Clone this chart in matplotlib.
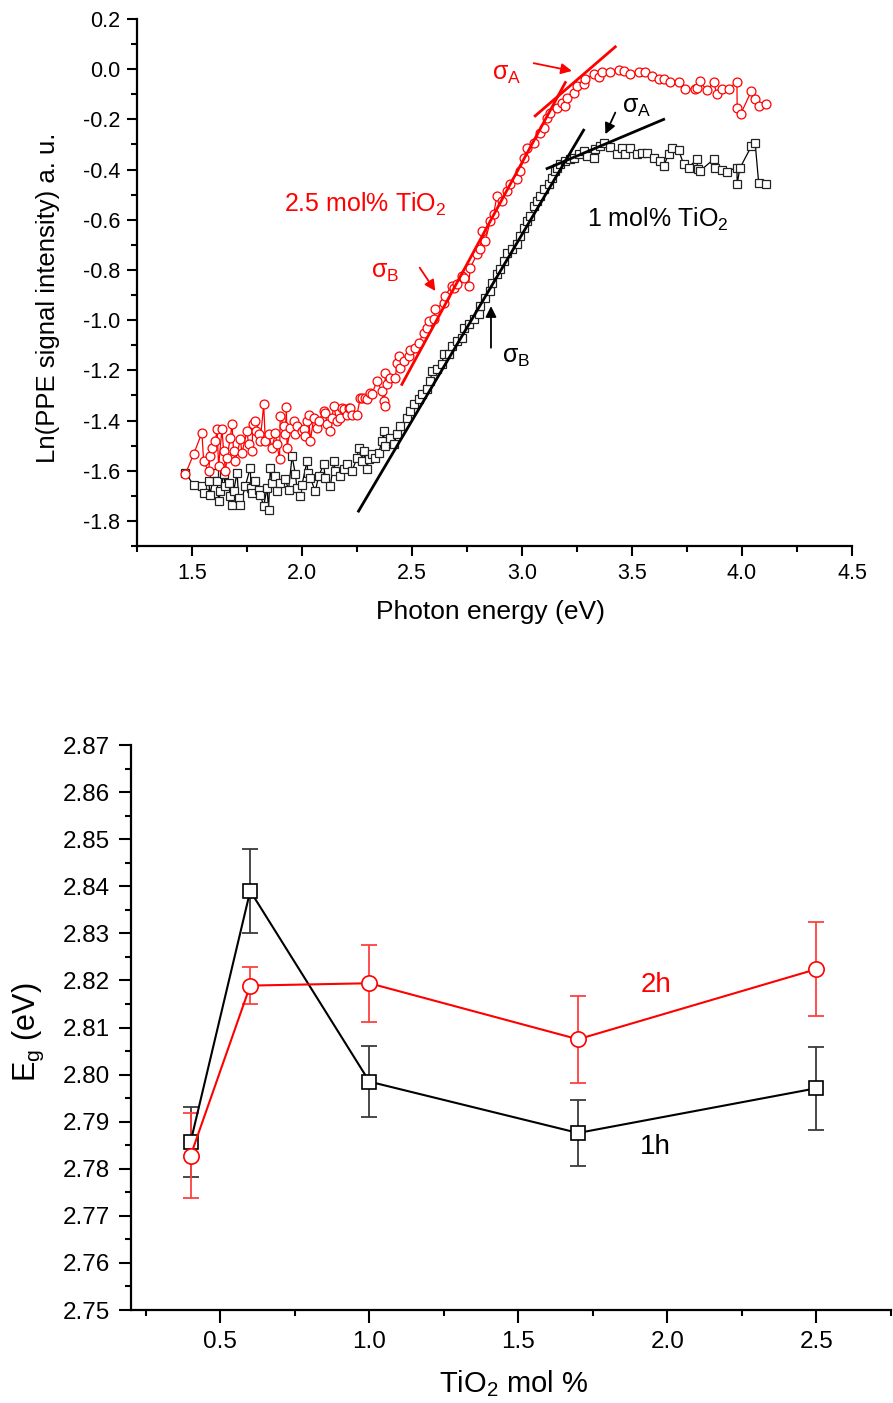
import matplotlib
matplotlib.use("Agg")
import matplotlib.pyplot as plt
from matplotlib.ticker import MultipleLocator, FormatStrFormatter
import numpy as np

plt.rcParams['font.family'] = ['Liberation Sans', 'DejaVu Sans']
plt.rcParams['mathtext.fontset'] = 'custom'
plt.rcParams['mathtext.rm'] = 'Liberation Sans'
plt.rcParams['mathtext.it'] = 'Liberation Sans:italic'
plt.rcParams['axes.unicode_minus'] = False

# ---------------- Top panel data: Ln(PPE signal) vs photon energy ----------------
red_x = [1.47, 1.507, 1.545, 1.553, 1.575, 1.583, 1.591, 1.606, 1.614, 1.621, 1.636, 1.644, 1.652, 1.659,
         1.674, 1.682, 1.689, 1.697, 1.72, 1.727, 1.75, 1.757, 1.773, 1.776, 1.788, 1.79, 1.803, 1.81,
         1.826, 1.833, 1.848, 1.864, 1.879, 1.886, 1.898, 1.901, 1.916, 1.924, 1.929, 1.932, 1.947, 1.962,
         1.97, 1.977, 2.0, 2.007, 2.015, 2.023, 2.03, 2.038, 2.053, 2.068, 2.076, 2.098, 2.106, 2.114,
         2.129, 2.136, 2.144, 2.159, 2.174, 2.182, 2.189, 2.205, 2.212, 2.22, 2.227, 2.25, 2.265, 2.273,
         2.288, 2.295, 2.31, 2.318, 2.341, 2.364, 2.371, 2.375, 2.379, 2.386, 2.401, 2.424, 2.432, 2.439,
         2.447, 2.462, 2.485, 2.492, 2.515, 2.53, 2.553, 2.568, 2.576, 2.598, 2.606, 2.644, 2.648, 2.682,
         2.689, 2.705, 2.727, 2.735, 2.757, 2.765, 2.795, 2.81, 2.818, 2.833, 2.856, 2.871, 2.886, 2.909,
         2.932, 2.947, 2.977, 2.992, 3.007, 3.023, 3.053, 3.083, 3.098, 3.114, 3.129, 3.159, 3.182, 3.197,
         3.205, 3.235, 3.25, 3.28, 3.288, 3.325, 3.348, 3.364, 3.40, 3.439, 3.462, 3.492, 3.53, 3.56,
         3.591, 3.621, 3.644, 3.674, 3.712, 3.742, 3.788, 3.795, 3.807, 3.841, 3.871, 3.886, 3.91, 3.939,
         3.977, 3.978, 3.995, 4.042, 4.06, 4.076, 4.109]
red_y = [-1.613, -1.535, -1.449, -1.562, -1.602, -1.542, -1.509, -1.482, -1.435, -1.582, -1.435, -1.522, -1.602, -1.549,
         -1.469, -1.415, -1.522, -1.562, -1.475, -1.529, -1.442, -1.495, -1.522, -1.415, -1.402, -1.442, -1.455, -1.482,
         -1.336, -1.482, -1.455, -1.509, -1.449, -1.495, -1.555, -1.383, -1.422, -1.455, -1.346, -1.509, -1.429, -1.402,
         -1.455, -1.422, -1.442, -1.435, -1.462, -1.402, -1.376, -1.482, -1.39, -1.429, -1.402, -1.363, -1.37, -1.415,
         -1.442, -1.39, -1.343, -1.402, -1.39, -1.35, -1.356, -1.376, -1.35, -1.35, -1.376, -1.376, -1.31, -1.31,
         -1.31, -1.316, -1.29, -1.293, -1.243, -1.283, -1.323, -1.343, -1.21, -1.256, -1.23, -1.23, -1.17, -1.143,
         -1.19, -1.163, -1.143, -1.117, -1.11, -1.09, -1.05, -1.03, -1.004, -0.997, -0.957, -0.93, -0.904, -0.864,
         -0.871, -0.857, -0.824, -0.831, -0.864, -0.791, -0.738, -0.718, -0.645, -0.685, -0.605, -0.578, -0.505, -0.525,
         -0.485, -0.459, -0.439, -0.405, -0.352, -0.313, -0.293, -0.253, -0.233, -0.193, -0.173, -0.153, -0.133, -0.146,
         -0.113, -0.093, -0.067, -0.06, -0.04, -0.02, -0.033, -0.013, -0.01, -0.003, -0.007, -0.02, -0.01, -0.013,
         -0.027, -0.04, -0.04, -0.053, -0.053, -0.08, -0.08, -0.076, -0.049, -0.084, -0.053, -0.1, -0.077, -0.077,
         -0.051, -0.156, -0.177, -0.088, -0.12, -0.146, -0.137]

black_x = [1.47, 1.507, 1.545, 1.553, 1.575, 1.583, 1.598, 1.614, 1.621, 1.629, 1.644, 1.652, 1.666, 1.674,
           1.682, 1.689, 1.705, 1.712, 1.72, 1.742, 1.765, 1.768, 1.773, 1.788, 1.803, 1.81, 1.826, 1.841,
           1.848, 1.856, 1.864, 1.879, 1.886, 1.901, 1.924, 1.939, 1.955, 1.97, 1.977, 1.992, 2.0, 2.023,
           2.026, 2.038, 2.06, 2.076, 2.098, 2.106, 2.129, 2.144, 2.152, 2.174, 2.189, 2.205, 2.227, 2.25,
           2.257, 2.273, 2.28, 2.295, 2.303, 2.318, 2.333, 2.348, 2.364, 2.371, 2.375, 2.401, 2.417, 2.432,
           2.447, 2.477, 2.492, 2.507, 2.53, 2.545, 2.568, 2.583, 2.591, 2.614, 2.636, 2.644, 2.666, 2.682,
           2.705, 2.727, 2.735, 2.757, 2.78, 2.803, 2.81, 2.833, 2.856, 2.864, 2.886, 2.901, 2.916, 2.932,
           2.955, 2.977, 2.992, 3.007, 3.023, 3.038, 3.053, 3.068, 3.083, 3.098, 3.121, 3.136, 3.152, 3.159,
           3.174, 3.197, 3.22, 3.235, 3.257, 3.28, 3.295, 3.325, 3.333, 3.356, 3.371, 3.401, 3.432, 3.455,
           3.47, 3.492, 3.523, 3.545, 3.568, 3.598, 3.629, 3.644, 3.666, 3.682, 3.712, 3.735, 3.757, 3.795,
           3.798, 3.81, 3.871, 3.879, 3.91, 3.93, 3.977, 3.978, 3.99, 4.042, 4.06, 4.076, 4.109]
black_y = [-1.608, -1.657, -1.661, -1.688, -1.642, -1.695, -1.608, -1.642, -1.722, -1.682, -1.615, -1.662, -1.648, -1.701,
           -1.735, -1.682, -1.608, -1.708, -1.735, -1.662, -1.588, -1.668, -1.688, -1.642, -1.675, -1.695, -1.741, -1.668,
           -1.755, -1.588, -1.648, -1.622, -1.682, -1.648, -1.635, -1.675, -1.542, -1.615, -1.668, -1.701, -1.655, -1.562,
           -1.608, -1.628, -1.682, -1.622, -1.575, -1.628, -1.662, -1.562, -1.602, -1.622, -1.595, -1.575, -1.602, -1.549,
           -1.509, -1.562, -1.522, -1.595, -1.555, -1.535, -1.549, -1.529, -1.482, -1.442, -1.502, -1.469, -1.495, -1.455,
           -1.422, -1.389, -1.362, -1.336, -1.316, -1.296, -1.276, -1.243, -1.203, -1.196, -1.176, -1.136, -1.136, -1.103,
           -1.083, -1.07, -1.03, -1.017, -0.997, -0.977, -0.944, -0.911, -0.884, -0.851, -0.817, -0.797, -0.764, -0.731,
           -0.718, -0.698, -0.665, -0.631, -0.605, -0.585, -0.545, -0.525, -0.505, -0.479, -0.459, -0.432, -0.405, -0.392,
           -0.379, -0.366, -0.359, -0.352, -0.339, -0.326, -0.346, -0.352, -0.319, -0.306, -0.293, -0.31, -0.339, -0.313,
           -0.339, -0.313, -0.339, -0.333, -0.333, -0.352, -0.366, -0.386, -0.339, -0.313, -0.323, -0.379, -0.392, -0.359,
           -0.399, -0.405, -0.359, -0.392, -0.403, -0.408, -0.392, -0.459, -0.395, -0.308, -0.296, -0.455, -0.459]

# linear fits (tangent lines) endpoints
red_fitB_x = [2.454, 3.197]
red_fitB_y = [-1.256, -0.053]
red_fitA_x = [3.06, 3.424]
red_fitA_y = [-0.186, 0.089]
blk_fitB_x = [2.257, 3.28]
blk_fitB_y = [-1.761, -0.243]
blk_fitA_x = [3.114, 3.644]
blk_fitA_y = [-0.396, -0.200]

# ---------------- Bottom panel data: Eg vs TiO2 mol % ----------------
tio2 = [0.4, 0.6, 1.0, 1.7, 2.5]
eg_1h = [2.7857, 2.8390, 2.7985, 2.7876, 2.7971]
err_1h = [0.0075, 0.0090, 0.0075, 0.0070, 0.0088]
eg_2h = [2.7828, 2.8189, 2.8194, 2.8075, 2.8224]
err_2h = [0.0090, 0.0040, 0.0082, 0.0092, 0.0100]

RED = '#ff0000'

fig = plt.figure(figsize=(8.93, 14.03), dpi=100)

# ============ TOP PANEL ============
ax1 = fig.add_axes([137/893, 1-546/1403, 715/893, 527/1403])
ax1.plot(red_x, red_y, '-', color=RED, lw=0.9, marker='o', ms=6.4, mfc='white',
         mec=RED, mew=0.9, zorder=3)
ax1.plot(black_x, black_y, '-', color='black', lw=0.9, marker='s', ms=5.8, mfc='white',
         mec='#222222', mew=0.9, zorder=2)
ax1.plot(red_fitB_x, red_fitB_y, '-', color=RED, lw=2.0, zorder=4)
ax1.plot(red_fitA_x, red_fitA_y, '-', color=RED, lw=2.0, zorder=4)
ax1.plot(blk_fitB_x, blk_fitB_y, '-', color='black', lw=2.0, zorder=4)
ax1.plot(blk_fitA_x, blk_fitA_y, '-', color='black', lw=2.0, zorder=4)

ax1.set_xlim(1.25, 4.5)
ax1.set_ylim(-1.9, 0.2)
ax1.xaxis.set_major_locator(MultipleLocator(0.5))
ax1.xaxis.set_minor_locator(MultipleLocator(0.25))
ax1.yaxis.set_major_locator(MultipleLocator(0.2))
ax1.yaxis.set_minor_locator(MultipleLocator(0.1))
ax1.xaxis.set_major_formatter(FormatStrFormatter('%.1f'))
ax1.yaxis.set_major_formatter(FormatStrFormatter('%.1f'))
for s in ['top', 'right']:
    ax1.spines[s].set_visible(False)
for s in ['left', 'bottom']:
    ax1.spines[s].set_linewidth(1.6)
ax1.tick_params(which='major', direction='out', length=7, width=1.5, labelsize=15.5, pad=5)
ax1.tick_params(which='minor', direction='out', length=4, width=1.5)

ax1.set_xlabel('Photon energy (eV)', fontsize=19, va='center')
ax1.xaxis.set_label_coords((490-137)/715, (546-612)/527)
ax1.set_ylabel('Ln(PPE signal intensity) a. u.', fontsize=18.5, va='center')
ax1.yaxis.set_label_coords((48-137)/715, (546-298)/527)

ax1.text(1.916, -0.537, '2.5 mol% TiO$_2$', color=RED, fontsize=18, ha='left', va='center')
ax1.text(3.295, -0.597, '1 mol% TiO$_2$', color='black', fontsize=18, ha='left', va='center')

ax1.text(2.93, -0.02, 'σ$_\\mathrm{A}$', color=RED, fontsize=18, ha='center', va='center')
ax1.text(3.52, -0.15, 'σ$_\\mathrm{A}$', color='black', fontsize=18, ha='center', va='center')
ax1.text(2.38, -0.81, 'σ$_\\mathrm{B}$', color=RED, fontsize=18, ha='center', va='center')
ax1.text(2.975, -1.145, 'σ$_\\mathrm{B}$', color='black', fontsize=18, ha='center', va='center')

arr_kw = dict(arrowstyle='-|>', lw=1.3, mutation_scale=16, shrinkA=0, shrinkB=0)
ax1.annotate('', xy=(3.227, -0.007), xytext=(3.053, 0.024),
             arrowprops=dict(color=RED, **arr_kw))
ax1.annotate('', xy=(3.379, -0.259), xytext=(3.424, -0.173),
             arrowprops=dict(color='black', **arr_kw))
ax1.annotate('', xy=(2.606, -0.884), xytext=(2.535, -0.791),
             arrowprops=dict(color=RED, **arr_kw))
ax1.annotate('', xy=(2.859, -0.944), xytext=(2.859, -1.11),
             arrowprops=dict(color='black', **arr_kw))

# ============ BOTTOM PANEL ============
ax2 = fig.add_axes([131/893, 1-1310/1403, 760/893, 565/1403])
ax2.errorbar(tio2, eg_1h, yerr=err_1h, fmt='none', ecolor='#3a3a3a', elinewidth=1.3,
             capsize=6, capthick=1.3, zorder=2)
ax2.errorbar(tio2, eg_2h, yerr=err_2h, fmt='none', ecolor='#ff4040', elinewidth=1.3,
             capsize=6, capthick=1.3, zorder=2)
ax2.plot(tio2, eg_1h, '-', color='black', lw=1.5, marker='s', ms=10, mfc='white',
         mec='black', mew=1.2, zorder=3)
ax2.plot(tio2, eg_2h, '-', color=RED, lw=1.5, marker='o', ms=11, mfc='white',
         mec=RED, mew=1.2, zorder=4)

ax2.set_xlim(0.2, 2.75)
ax2.set_ylim(2.75, 2.87)
ax2.xaxis.set_major_locator(MultipleLocator(0.5))
ax2.xaxis.set_minor_locator(MultipleLocator(0.25))
ax2.yaxis.set_major_locator(MultipleLocator(0.01))
ax2.yaxis.set_minor_locator(MultipleLocator(0.005))
ax2.xaxis.set_major_formatter(FormatStrFormatter('%.1f'))
ax2.yaxis.set_major_formatter(FormatStrFormatter('%.2f'))
for s in ['top', 'right']:
    ax2.spines[s].set_visible(False)
for s in ['left', 'bottom']:
    ax2.spines[s].set_linewidth(1.6)
ax2.tick_params(which='major', direction='out', length=9, width=1.5, labelsize=17.5, pad=6)
ax2.tick_params(which='minor', direction='out', length=4.5, width=1.5)

ax2.set_xlabel('TiO$_2$ mol %', fontsize=21, va='center')
ax2.xaxis.set_label_coords((514-131)/760, (1310-1384)/565)
ax2.set_ylabel('E$_\\mathrm{g}$ (eV)', fontsize=22, va='center')
ax2.yaxis.set_label_coords((28-131)/760, (1310-1032)/565)

ax2.text(1.96, 2.8190, '2h', color=RED, fontsize=20, ha='center', va='center')
ax2.text(1.96, 2.7846, '1h', color='black', fontsize=20, ha='center', va='center')

fig.savefig('out.png', dpi=100)
